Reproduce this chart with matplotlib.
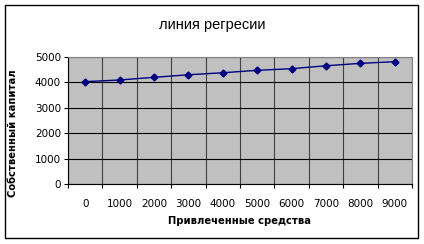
import matplotlib
matplotlib.use("Agg")
import matplotlib.pyplot as plt
from matplotlib.patches import Rectangle

# data
categories = ["0", "1000", "2000", "3000", "4000", "5000", "6000", "7000", "8000", "9000"]
capital = [4030, 4095, 4200, 4300, 4380, 4475, 4540, 4655, 4750, 4815]
y_ticks = [0, 1000, 2000, 3000, 4000, 5000]

fig = plt.figure(figsize=(4.24, 2.44), dpi=100)
ax = fig.add_axes([68 / 424, 1 - 184 / 244, (412 - 68) / 424, (184 - 57) / 244])

x = list(range(len(categories)))
ax.plot(x, capital, color="#000080", linewidth=1, marker="D", markersize=3.5, zorder=3)

ax.set_facecolor("#C0C0C0")
ax.set_xlim(-0.5, len(categories) - 0.5)
ax.set_ylim(0, 5000)

# category boundaries carry the tick marks and vertical grid
ax.set_xticks([i - 0.5 for i in range(len(categories) + 1)])
ax.set_xticklabels([])
ax.set_xticks(x, minor=True)
ax.set_xticklabels(categories, minor=True)
ax.tick_params(axis="x", which="major", direction="out", length=3, color="black")
ax.tick_params(axis="x", which="minor", length=0, pad=11, labelsize=7.5)
ax.set_yticks(y_ticks)
ax.tick_params(axis="y", direction="out", length=3, pad=2, labelsize=7.5)

ax.grid(True, which="major", axis="y", color="black", linewidth=0.8)
ax.grid(True, which="major", axis="x", color="#404040", linewidth=0.8)
ax.set_axisbelow(True)

for side in ["top", "right"]:
    ax.spines[side].set_color("#808080")
for side in ["left", "bottom"]:
    ax.spines[side].set_color("black")

fig.text(212 / 424, 1 - 25 / 244, "линия регресии", ha="center", va="center",
         fontsize=10.5, family="Liberation Sans")
fig.text(240 / 424, 1 - 221 / 244, "Привлеченные средства", ha="center", va="center",
         fontsize=7.2, fontweight="bold")
fig.text(13 / 424, 1 - 133 / 244, "Собственный капитал", rotation=90, ha="center",
         va="center", fontsize=7.2, fontweight="bold")

fig.patches.append(Rectangle((5 / 424, 6 / 244), 413 / 424, 233 / 244, transform=fig.transFigure,
                             fill=False, edgecolor="black", linewidth=1))

fig.savefig("out.png", dpi=100)
